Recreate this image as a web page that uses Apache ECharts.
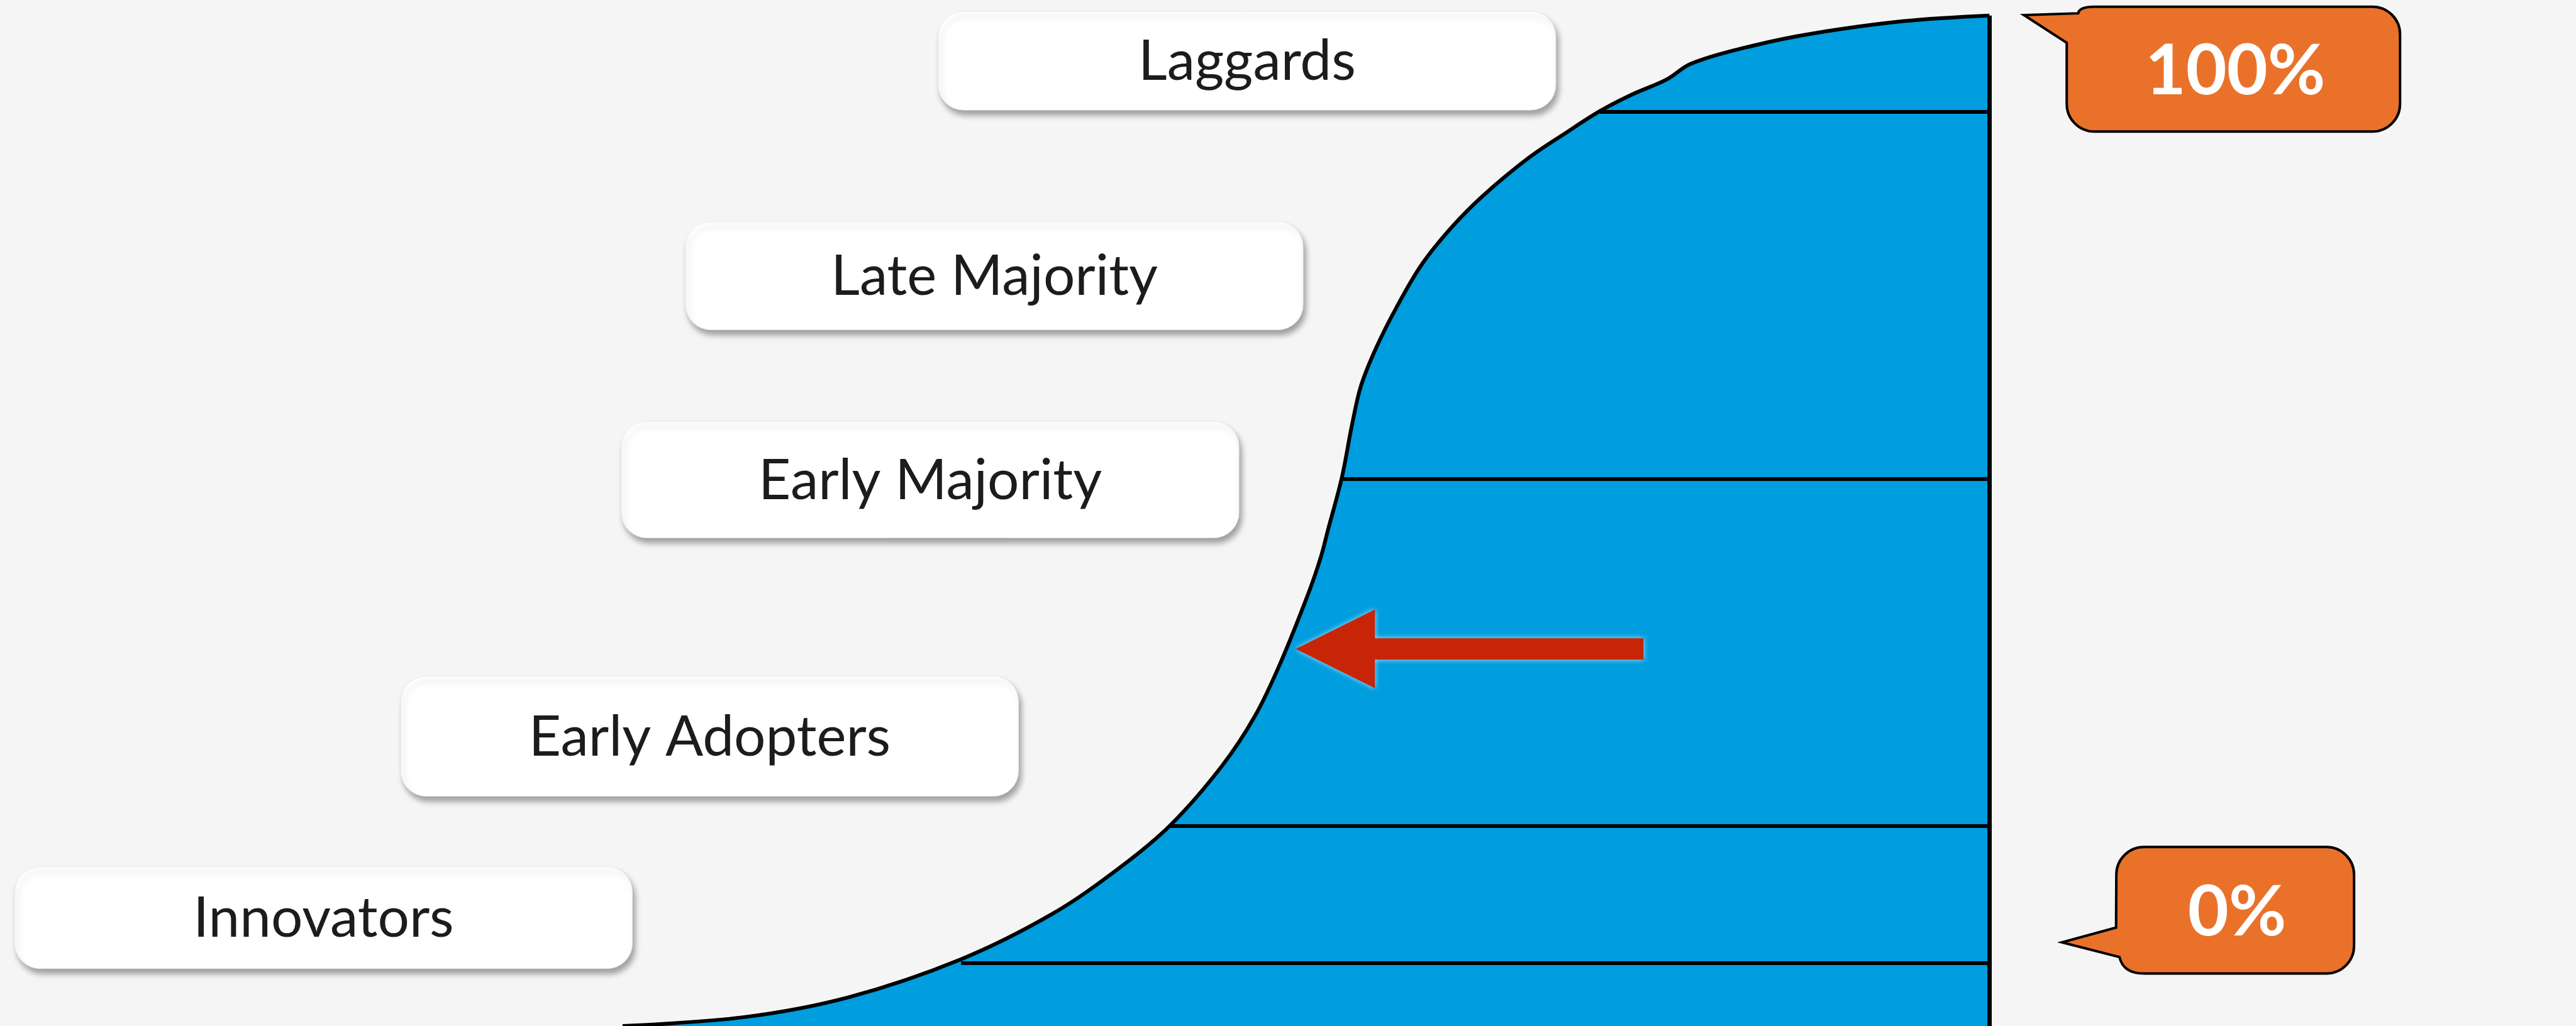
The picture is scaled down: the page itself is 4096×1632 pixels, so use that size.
<!DOCTYPE html>
<html>
<head>
<meta charset="utf-8">
<script src="https://cdn.jsdelivr.net/npm/echarts@6/dist/echarts.min.js"></script>
<style>
  html, body { margin: 0; padding: 0; background: #f5f5f5; }
  #chart { width: 4096px; height: 1632px; }
</style>
</head>
<body>
<div id="chart"></div>
<script>
// ---------------- DATA ----------------
// Time axis (arbitrary units, 0..100 across the figure) and cumulative adoption (%)
const timeX = [24.17, 28.89, 32.96, 37.30, 40.84, 43.46, 45.44, 47.41, 48.72, 49.71, 50.81, 51.28, 51.55, 52.09, 52.49, 52.83, 53.42, 54.21, 55.20, 56.38, 57.56, 59.34, 60.81, 62.10, 63.28, 64.70, 65.65, 68.02, 70.38, 73.92, 77.23];
const adoption = [0, 0.88, 2.86, 6.60, 11.08, 15.66, 19.89, 25.65, 30.69, 35.95, 42.94, 46.45, 49.07, 54.28, 59.56, 63.33, 67.10, 71.11, 75.39, 79.12, 82.15, 85.91, 88.43, 90.53, 92.10, 93.68, 95.24, 97.00, 98.23, 99.45, 100];

// Stage names (bottom to top)
const stages = ['Innovators', 'Early Adopters', 'Early Majority', 'Late Majority', 'Laggards'];
// Stage boundaries: cumulative adoption (%) and time where each boundary meets the curve
const boundaryAdoption = [6.24, 19.82, 54.15, 90.46];
const boundaryTime = [37.31, 45.41, 52.07, 62.12];
// End of the observed period (right edge of the filled area)
const endTime = 77.23;

// Callout texts
const calloutTexts = ['100%', '0%'];

// ---------------- LAYOUT (annotations, in axis units) ----------------
const stageBoxPos = [[12.56, 10.72], [27.55, 28.68], [36.11, 54.07], [38.60, 74.25], [48.41, 95.53]];
const stageBoxH = [162, 191, 185, 172, 157];
const STAGE_BOX_W = 982;
const calloutPos = [[86.70, 94.70], [86.77, 11.45]];
const arrowTip = [50.30, 37.32];

const BLUE = '#009DDF';
const ORANGE = '#EA7129';
const RED = '#C82408';

const chart = echarts.init(document.getElementById('chart'), null, { renderer: 'canvas' });

function roundRectPathTail100(cx, cy) {
  const hw = 265, hh = 99.3, r = 44;
  const L = cx - hw, R = cx + hw, T = cy - hh, B = cy + hh;
  const aB = [cx - 265, cy - 41.8], tip = [cx - 333, cy - 86], aT = [cx - 246.8, cy - 88.8];
  return [
    'M', L + r, T,
    'L', R - r, T,
    'A', r, r, 0, 0, 1, R, T + r,
    'L', R, B - r,
    'A', r, r, 0, 0, 1, R - r, B,
    'L', L + r, B,
    'A', r, r, 0, 0, 1, L, B - r,
    'L', aB[0], aB[1],
    'L', tip[0], tip[1],
    'L', aT[0], aT[1],
    'Q', L + r * 0.45, T, L + r, T,
    'Z'
  ].join(' ');
}
function roundRectPathTail0(cx, cy) {
  const hw = 189, hh = 100.6, r = 44;
  const L = cx - hw, R = cx + hw, T = cy - hh, B = cy + hh;
  const a2 = [cx - 184, cy + 74.4], tip = [cx - 275.6, cy + 51], a1 = [cx - 189.4, cy + 27.4];
  return [
    'M', L + r, T,
    'L', R - r, T,
    'A', r, r, 0, 0, 1, R, T + r,
    'L', R, B - r,
    'A', r, r, 0, 0, 1, R - r, B,
    'L', L + r, B,
    'Q', L + r * 0.25, B, a2[0], a2[1],
    'L', tip[0], tip[1],
    'L', a1[0], a1[1],
    'L', L, T + r,
    'A', r, r, 0, 0, 1, L + r, T,
    'Z'
  ].join(' ');
}

const curveData = timeX.map((t, i) => [t, adoption[i]]);
const boundaryLines = boundaryAdoption.map((y, i) => [
  { coord: [boundaryTime[i], y] },
  { coord: [endTime, y] }
]);

const option = {
  backgroundColor: '#f5f5f5',
  animation: false,
  grid: { left: 0, right: 0, top: 0, bottom: 0, containLabel: false },
  xAxis: { type: 'value', min: 0, max: 100, show: false },
  yAxis: { type: 'value', min: 0, max: 101.54, show: false },
  series: [
    {
      type: 'line',
      name: 'Adoption',
      data: curveData,
      smooth: 0.35,
      showSymbol: false,
      z: 2,
      lineStyle: { color: '#000', width: 6, join: 'round' },
      areaStyle: { color: BLUE, opacity: 1 },
      markLine: {
        silent: true,
        symbol: ['none', 'none'],
        label: { show: false },
        lineStyle: { color: '#000', width: 6, type: 'solid' },
        data: boundaryLines.concat([
          [{ coord: [endTime, 0], lineStyle: { width: 7 } }, { coord: [endTime, 100] }]
        ])
      }
    },
    {
      type: 'custom',
      name: 'arrow',
      z: 5,
      data: [arrowTip],
      renderItem: function (params, api) {
        const c = api.coord([api.value(0), api.value(1)]);
        const x = c[0], y = c[1];
        return {
          type: 'polygon',
          shape: { points: [[x, y], [x + 126, y - 62.7], [x + 126, y - 17], [x + 553, y - 17], [x + 553, y + 17], [x + 126, y + 17], [x + 126, y + 62.7]] },
          style: { fill: RED, shadowBlur: 8, shadowColor: 'rgba(255,255,255,0.7)' }
        };
      }
    },
    {
      type: 'custom',
      name: 'stages',
      z: 6,
      data: stageBoxPos.map((p, i) => [p[0], p[1], i]),
      renderItem: function (params, api) {
        const c = api.coord([api.value(0), api.value(1)]);
        const i = api.value(2);
        const h = stageBoxH[i];
        return {
          type: 'group',
          children: [
            {
              type: 'rect',
              shape: { x: c[0] - STAGE_BOX_W / 2, y: c[1] - h / 2, width: STAGE_BOX_W, height: h, r: 40 },
              style: { fill: '#ffffff', stroke: '#ececec', lineWidth: 1, shadowBlur: 10, shadowOffsetX: 4, shadowOffsetY: 8, shadowColor: 'rgba(0,0,0,0.35)' }
            },
            {
              type: 'text',
              style: {
                text: stages[i], x: c[0], y: c[1] + 2,
                fill: '#1c1c1c', font: '400 89px Lato',
                align: 'center', verticalAlign: 'middle',
                textAlign: 'center', textVerticalAlign: 'middle'
              }
            }
          ]
        };
      }
    },
    {
      type: 'custom',
      name: 'callouts',
      z: 6,
      data: calloutPos.map((p, i) => [p[0], p[1], i]),
      renderItem: function (params, api) {
        const c = api.coord([api.value(0), api.value(1)]);
        const i = api.value(2);
        const d = i === 0 ? roundRectPathTail100(c[0], c[1]) : roundRectPathTail0(c[0], c[1]);
        return {
          type: 'group',
          children: [
            {
              type: 'path',
              shape: { pathData: d },
              style: { fill: ORANGE, stroke: '#000', lineWidth: 4, lineJoin: 'miter' }
            },
            {
              type: 'text',
              style: {
                text: calloutTexts[i], x: c[0] + 3, y: c[1] + 4,
                fill: '#ffffff', font: 'bold 112px Lato',
                align: 'center', verticalAlign: 'middle',
                textAlign: 'center', textVerticalAlign: 'middle'
              }
            }
          ]
        };
      }
    }
  ]
};
chart.setOption(option);
</script>
</body>
</html>
